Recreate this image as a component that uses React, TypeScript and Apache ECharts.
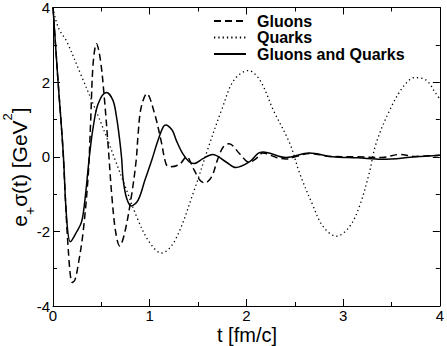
import React, { useEffect, useRef } from 'react';
import * as echarts from 'echarts';

// Gluons (dashed)
const gluonT = [0, 0.05, 0.1, 0.158, 0.2, 0.227, 0.26, 0.31, 0.364, 0.39, 0.415, 0.45, 0.49, 0.53, 0.57, 0.61, 0.65, 0.69, 0.74, 0.81, 0.86, 0.88, 0.91, 0.97, 1.05, 1.12, 1.17, 1.21, 1.31, 1.38, 1.46, 1.52, 1.57, 1.64, 1.7, 1.76, 1.82, 1.93, 2.03, 2.1, 2.17, 2.31, 2.41, 2.53, 2.65, 2.86, 3.13, 3.4, 3.58, 3.75, 4.0];
const gluonY = [4, 2.1, 0.3, -2.49, -3.37, -3.3, -2.9, -2.05, -0.5, 1.0, 2.5, 3.03, 2.6, 1.6, 0.3, -1.1, -2.05, -2.39, -2.05, -1.07, -0.1, 0.6, 1.3, 1.69, 1.16, 0.4, -0.2, -0.27, -0.2, 0.0, -0.36, -0.63, -0.7, -0.54, -0.09, 0.26, 0.35, 0.08, -0.15, -0.05, 0.1, -0.02, -0.06, 0.02, 0.09, 0.01, 0.0, -0.02, 0.06, 0.01, 0.04];

// Quarks (dotted)
const quarkT = [0, 0.03, 0.07, 0.14, 0.28, 0.45, 0.57, 0.63, 0.74, 0.88, 1.0, 1.12, 1.26, 1.46, 1.6, 1.75, 1.87, 2.02, 2.14, 2.28, 2.45, 2.55, 2.69, 2.79, 2.93, 3.07, 3.17, 3.27, 3.34, 3.48, 3.62, 3.74, 3.86, 3.96, 4.0];
const quarkY = [4, 3.65, 3.38, 3.1, 2.25, 1.2, 0.42, 0.0, -0.75, -1.7, -2.3, -2.58, -2.25, -0.9, 0.2, 1.3, 2.05, 2.31, 2.05, 1.24, 0.35, -0.44, -1.32, -1.86, -2.13, -1.86, -1.32, -0.44, 0.35, 1.24, 1.87, 2.12, 2.05, 1.69, 1.55];

// Gluons and Quarks (solid)
const bothT = [0, 0.05, 0.106, 0.14, 0.18, 0.245, 0.296, 0.33, 0.364, 0.38, 0.416, 0.467, 0.553, 0.62, 0.657, 0.69, 0.71, 0.725, 0.76, 0.81, 0.88, 0.95, 1.02, 1.086, 1.14, 1.17, 1.21, 1.24, 1.275, 1.34, 1.41, 1.46, 1.55, 1.65, 1.79, 1.89, 2.03, 2.12, 2.17, 2.41, 2.65, 2.89, 3.15, 3.4, 3.75, 4.0];
const bothY = [4, 2.1, 0.1, -1.61, -2.28, -2.01, -1.74, -1.16, -0.3, 0.1, 0.8, 1.42, 1.72, 1.51, 1.06, 0.44, -0.05, -0.6, -1.1, -1.32, -1.16, -0.63, -0.1, 0.44, 0.8, 0.85, 0.78, 0.68, 0.44, 0.09, -0.14, -0.18, -0.05, 0.06, -0.14, -0.29, -0.14, 0.09, 0.13, -0.02, 0.1, 0.0, -0.03, -0.07, 0.0, 0.04];

const seriesNames = ['Gluons', 'Quarks', 'Gluons and Quarks'];

const FONT = '"Liberation Sans", Arial, Helvetica, sans-serif';

export default function App() {
  const ref = useRef<HTMLDivElement>(null);
  useEffect(() => {
    document.body.style.margin = '0';
    const chart = echarts.init(ref.current!, null, { renderer: 'svg' });
    const zip = (t: number[], y: number[]) => t.map((v, i) => [v, y[i]]);
    const line = { show: true, onZero: false, lineStyle: { color: '#000', width: 1 } };
    const tick = { show: true, inside: true, length: 7, lineStyle: { color: '#000', width: 1 } };
    const minor = { show: true, splitNumber: 2, length: 4, lineStyle: { color: '#000', width: 1 } };
    const xLabel = { show: true, margin: 3, fontSize: 15, lineHeight: 13, color: '#000', fontFamily: FONT };
    const yLabel = { show: true, margin: 3, fontSize: 15, color: '#000', fontFamily: FONT };
    chart.setOption({
      animation: false,
      grid: { left: 53, right: 6, top: 6, bottom: 40 },
      xAxis: [
        { type: 'value', min: 0, max: 4, interval: 1, position: 'bottom', axisLine: line, axisTick: tick, minorTick: minor, axisLabel: xLabel, splitLine: { show: false } },
        { type: 'value', min: 0, max: 4, interval: 1, position: 'top', axisLine: line, axisTick: tick, minorTick: minor, axisLabel: { show: false }, splitLine: { show: false } },
      ],
      yAxis: [
        { type: 'value', min: -4, max: 4, interval: 2, position: 'left', axisLine: line, axisTick: tick, minorTick: minor, axisLabel: yLabel, splitLine: { show: false } },
        { type: 'value', min: -4, max: 4, interval: 2, position: 'right', axisLine: line, axisTick: tick, minorTick: minor, axisLabel: { show: false }, splitLine: { show: false } },
      ],
      legend: {
        orient: 'vertical', left: 213, top: 13, itemWidth: 32, itemHeight: 10, itemGap: 0.5, padding: 0,
        itemStyle: { color: 'rgba(0,0,0,0)', borderColor: 'rgba(0,0,0,0)', borderWidth: 0, opacity: 0 },
        textStyle: { fontSize: 16, fontWeight: 'bold', color: '#000', fontFamily: FONT, padding: [0, 0, 0, 6], lineHeight: 16 },
        data: seriesNames,
      },
      series: [
        { name: seriesNames[0], type: 'line', data: zip(gluonT, gluonY), symbol: 'none', smooth: 0.35, lineStyle: { color: '#000', width: 1.5, type: [7, 4] }, itemStyle: { color: '#000' } },
        { name: seriesNames[1], type: 'line', data: zip(quarkT, quarkY), symbol: 'none', smooth: 0.35, lineStyle: { color: '#000', width: 1.3, type: [1.3, 3] }, itemStyle: { color: '#000' } },
        { name: seriesNames[2], type: 'line', data: zip(bothT, bothY), symbol: 'none', smooth: 0.35, lineStyle: { color: '#000', width: 1.5 }, itemStyle: { color: '#000' } },
      ],
      graphic: [
        { type: 'text', x: 247, y: 335, style: { text: 't [fm/c]', fontSize: 20, lineHeight: 20, fontFamily: FONT, fill: '#000', align: 'center', verticalAlign: 'middle' } },
        {
          type: 'text', x: 19, y: 167, rotation: Math.PI / 2,
          style: {
            text: '{m|e}{s|+}{m|σ(t) [GeV}{p|2}{m|]}',
            align: 'center', verticalAlign: 'middle', fill: '#000', fontFamily: FONT, fontSize: 21,
            rich: {
              m: { fontSize: 21, fontFamily: FONT, fill: '#000', lineHeight: 36 },
              s: { fontSize: 14, fontFamily: FONT, fill: '#000', lineHeight: 16, verticalAlign: 'bottom' },
              p: { fontSize: 13, fontFamily: FONT, fill: '#000', lineHeight: 10, verticalAlign: 'top' },
            },
          },
        },
      ],
    });
    return () => chart.dispose();
  }, []);
  return <div ref={ref} style={{ position: 'absolute', left: 0, top: 0, width: 447, height: 346 }} />;
}
